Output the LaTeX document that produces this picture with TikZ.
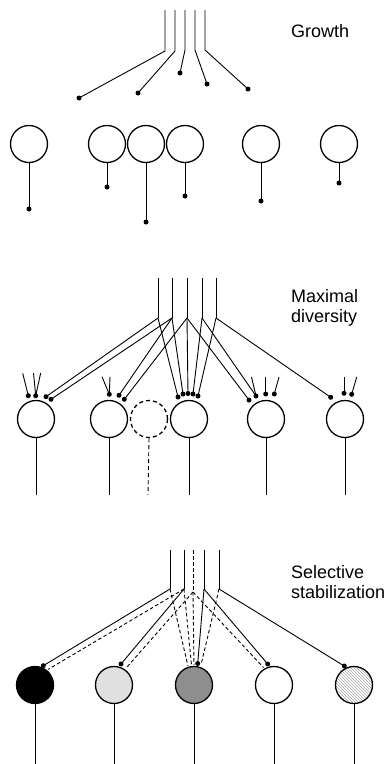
\documentclass[tikz,border=0pt]{standalone}
\usepackage{fontspec}
\setmainfont{Liberation Sans}
\usetikzlibrary{patterns}
\definecolor{lgray}{HTML}{E0E0E0}
\definecolor{mgray}{HTML}{8E8E8E}
\begin{document}
\begin{tikzpicture}[x=1pt,y=-1pt,
  axon/.style={line width=0.9pt},
  cell/.style={circle,draw,line width=1.3pt,minimum size=37pt,inner sep=0pt},
  dot/.style={circle,fill=black,inner sep=0pt,minimum size=5pt},
  lbl/.style={font=\fontsize{18}{20}\selectfont,align=left,anchor=west,inner sep=0pt},
  gone/.style={axon,dash pattern=on 3.5pt off 2.5pt}]
\useasboundingbox (0,0) rectangle (389,764);

% ---------------- Growth ----------------
\node[lbl] (tgrowth) at (291,31) {Growth};
\foreach \i/\x/\yb/\ex/\ey in {1/165/51/79/98, 2/175/51/138/93, 3/185/50/180/73, 4/195/50/207/84, 5/205/50/248/89} {
  \coordinate (gt\i) at (\x,10);
  \coordinate (gb\i) at (\x,\yb);
  \node[dot] (ge\i) at (\ex,\ey) {};
  \draw[axon] (gt\i) -- (gb\i) -- (ge\i.center);
}
\foreach \i/\x/\t in {1/29/209, 2/107/187, 3/146/222, 4/185/196, 5/261/201, 6/339/183} {
  \node[cell] (gc\i) at (\x,144) {};
  \node[dot] (gd\i) at (\x,\t) {};
  \draw[axon] (gc\i.south) -- (gd\i.center);
}

% ---------------- Maximal diversity ----------------
\node[lbl] (tmax) at (291,308) {Maximal\\diversity};
\foreach \i/\x in {1/158,2/172,3/187,4/202,5/216} {
  \coordinate (mt\i) at (\x,278);
  \coordinate (mb\i) at (\x,318);
  \draw[axon] (mt\i) -- (mb\i);
}
\foreach \i/\x in {1/36,2/109,4/189,5/266,6/345} {
  \node[cell] (mc\i) at (\x,419) {};
  \coordinate (mf\i) at (\x,495);
  \draw[axon] (mc\i.south) -- (mf\i);
}
\node[cell,dash pattern=on 4pt off 3pt] (mc3) at (149,419) {};
\coordinate (mf3) at (148,495);
\draw[axon,dash pattern=on 4pt off 3pt] (mc3.south) -- (mf3);

% dots
\foreach \n/\x/\y in {m1a/28.3/395.7, m1b/35.7/395.7, m1c/46/396.7, m1d/51/399.3,
  m2a/109.3/394.3, m2b/119/395.3, m2c/124.3/399.3,
  m4a/178/397, m4b/183/394, m4c/188/393.5, m4d/193/394, m4e/198/396,
  m5a/249/400, m5b/256/396, m5c/265.7/394, m5d/274.3/394,
  m6a/330.7/397.3, m6b/344/393.3, m6c/351.7/394.3} {
  \node[dot] (\n) at (\x,\y) {};
}
% short stubs
\foreach \n/\x/\y/\d in {s1/22.7/373.3/m1a, s2/33.5/373/m1b, s3/40.7/373/m1b,
  s4/102/376.7/m2a, s5/110/376.7/m2a,
  s6/251.5/377/m5b, s7/265.7/377/m5c, s8/279/377/m5d,
  s9/344/377/m6b, s10/356.7/377/m6c} {
  \coordinate (\n) at (\x,\y);
  \draw[axon] (\n) -- (\d.center);
}
% long branches
\draw[axon] (mb1) -- (m1c.center);
\draw[axon] (mb1) -- (m4a.center);
\draw[axon] (mb2) -- (m1d.center);
\draw[axon] (mb2) -- (m2b.center);
\draw[axon] (mb2) -- (m4b.center);
\draw[axon] (mb3) -- (m2c.center);
\draw[axon] (mb3) -- (m4c.center);
\draw[axon] (mb3) -- (m5a.center);
\draw[axon] (mb4) -- (m4d.center);
\draw[axon] (mb4) -- (m5b.center);
\draw[axon] (mb5) -- (m4e.center);
\draw[axon] (mb5) -- (m6a.center);

% ---------------- Selective stabilization ----------------
\node[lbl] (tsel) at (291,582) {Selective\\stabilization};
\foreach \i/\x in {1/170,2/184,4/204,5/219} {
  \coordinate (st\i) at (\x,550);
  \coordinate (sb\i) at (\x,589);
  \draw[axon] (st\i) -- (sb\i);
}
\coordinate (st3) at (193,550);
\coordinate (sb3) at (193,592);
\draw[gone] (st3) -- (sb3);

\node[cell,fill=black] (sc1) at (35,685) {};
\node[cell,fill=lgray] (sc2) at (114,685) {};
\node[cell,fill=mgray] (sc3) at (194,685) {};
\node[cell,fill=white] (sc4) at (274,685) {};
\node[cell,pattern=north west lines,pattern color=gray!70] (sc5) at (354,685) {};
\foreach \i/\x in {1/35,2/114,3/194,4/274,5/354} {
  \coordinate (sf\i) at (\x,764);
  \draw[axon] (sc\i.south) -- (sf\i);
}
% kept synapses
\node[dot] (sd1) at (43.3,665.7) {};
\node[dot] (sd2) at (121,664) {};
\node[dot] (sd3) at (197.7,663.5) {};
\node[dot] (sd4) at (267.7,664) {};
\node[dot] (sd5) at (344.3,666) {};
\draw[axon] (sb1) -- (sd1.center);
\draw[axon] (sb2) -- (sd2.center);
\draw[axon] (sb4) -- (sd3.center);
\draw[axon] (sb4) -- (sd4.center);
\draw[axon] (sb5) -- (sd5.center);
% retracted branches
\coordinate (se1) at (48.3,669.3);
\coordinate (se2) at (127,667);
\coordinate (se3) at (188,666);
\coordinate (se4) at (191.5,665);
\coordinate (se5) at (194,665);
\coordinate (se6) at (201,665);
\coordinate (se7) at (263.5,667.5);
\draw[gone] (sb2) -- (se1);
\draw[gone] (sb3) -- (se2);
\draw[gone] (sb1) -- (se3);
\draw[gone] (sb2) -- (se4);
\draw[gone] (sb3) -- (se5);
\draw[gone] (sb5) -- (se6);
\draw[gone] (sb3) -- (se7);
\end{tikzpicture}
\end{document}
